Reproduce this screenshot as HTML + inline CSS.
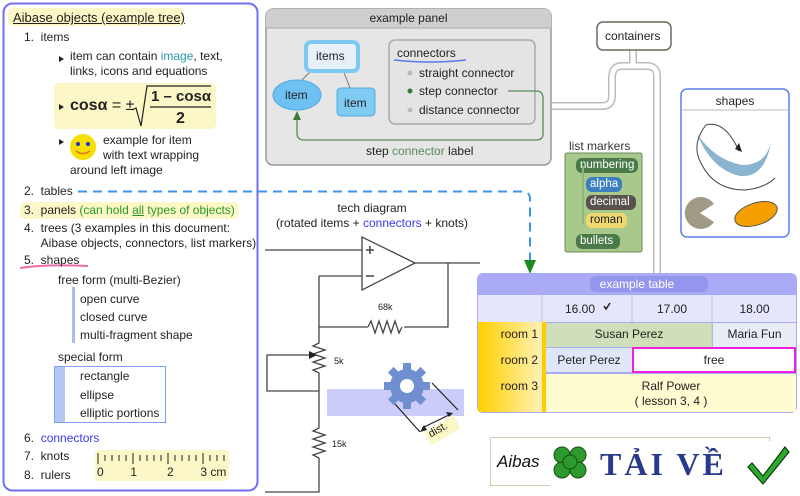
<!DOCTYPE html>
<html><head><meta charset="utf-8"><style>
body{margin:0;width:800px;height:496px;overflow:hidden;background:#fff;font-family:"Liberation Sans",sans-serif;position:relative;color:#222}
.a{position:absolute;white-space:nowrap;font-size:12px;line-height:14px}
svg{position:absolute;left:0;top:0}
</style></head><body>
<svg width="800" height="496">
<rect x="3.5" y="3.5" width="254" height="487" rx="9" fill="#fff" stroke="#6f6ff2" stroke-width="2"/>
<rect x="8" y="8" width="176" height="18" rx="5" fill="#fbf7c6"/>
<rect x="54" y="83" width="162" height="46" rx="5" fill="#fbf7c6"/>
<rect x="20" y="202" width="219" height="17" rx="5" fill="#fbf7c6"/>
<rect x="95" y="450" width="134" height="31" rx="4" fill="#fbf7c6"/>
<path d="M20 268 Q45 264 88 266" stroke="#f06aa8" stroke-width="2" fill="none"/>
<rect x="72" y="287" width="3" height="56" fill="#a6bff0"/>
<rect x="54.5" y="366.5" width="111" height="56" fill="#fff" stroke="#7ea0ee"/>
<rect x="55" y="367" width="10" height="55" fill="#b3c8f2"/>
<g stroke="#222" stroke-width="1">
<path d="M98 453v11M133 453v11M168 453v11M203 453v11"/>
<path d="M105 455v6M112 455v6M119 455v6M126 455v6M140 455v6M147 455v6M154 455v6M161 455v6M175 455v6M182 455v6M189 455v6M196 455v6M210 455v6M217 455v6M224 455v6"/>
</g>
<path d="M59 56l5 3-5 3z M59 104l5 3-5 3z M59 139l5 3-5 3z" fill="#222"/>
<circle cx="83" cy="147" r="13" fill="#f5e000"/>
<circle cx="78" cy="144" r="2" fill="#2233cc"/><circle cx="88" cy="144" r="2" fill="#2233cc"/>
<path d="M76 151 Q83 156 90 151" stroke="#e07020" fill="none" stroke-width="1.5"/>
<path d="M132 110 l4 -2 l5 18 l6 -40 h64" stroke="#222" fill="none" stroke-width="1.2"/>
<path d="M150 107 h61" stroke="#222" stroke-width="1.2"/>
<path d="M78 191.5 H522 Q530 191.5 530 199 V262" stroke="#3a95ea" stroke-width="2" stroke-dasharray="9 6" fill="none"/>
<path d="M524 260 L536 260 L530 274z" fill="#1c8a1c"/>
<rect x="266" y="9" width="285" height="156" rx="7" fill="#e6e6e6" stroke="#999" stroke-width="1.5"/>
<path d="M266 28 V16 Q266 9 273 9 H544 Q551 9 551 16 V28z" fill="#cfcfcf"/>
<line x1="266" y1="28" x2="551" y2="28" stroke="#aaa"/>
<line x1="312" y1="70" x2="300" y2="82" stroke="#777"/>
<line x1="343" y1="70" x2="350" y2="88" stroke="#777"/>
<rect x="306" y="42" width="52" height="29" rx="5" fill="#e6f0f8" stroke="#7cc8f0" stroke-width="4"/>
<ellipse cx="297" cy="95" rx="24" ry="15" fill="#6ec1f2" stroke="#55a8dd"/>
<rect x="337" y="88" width="38" height="28" rx="4" fill="#7fcbf4" stroke="#55a8dd"/>
<rect x="389" y="40" width="146" height="84" rx="6" fill="#e4e4e4" stroke="#aaa" stroke-width="1.5"/>
<path d="M394 60 Q430 64 466 60" stroke="#5b78ec" stroke-width="1.5" fill="none"/>
<circle cx="410" cy="73" r="2.5" fill="#bbb"/><circle cx="410" cy="91" r="2.5" fill="#3a7a3a"/><circle cx="410" cy="110" r="2.5" fill="#bbb"/>
<path d="M508 91 H536 Q543 91 543 98 V134 Q543 140 536 140 H304 Q297 140 297 133 V117" stroke="#5a8a5a" stroke-width="1.3" fill="none"/>
<path d="M293 120 L301 120 L297 111z" fill="#3a7a3a"/>
<g fill="none" stroke-linejoin="round">
<path d="M633 50 V66 H622 Q612 66 612 78 V96 Q612 106 602 106 H552" stroke="#bbb" stroke-width="8"/>
<path d="M633 50 V66 H647 Q657 66 657 76 V273" stroke="#bbb" stroke-width="8"/>
<path d="M633 50 V66 H622 Q612 66 612 78 V96 Q612 106 602 106 H552" stroke="#fff" stroke-width="5"/>
<path d="M633 50 V66 H647 Q657 66 657 76 V273" stroke="#fff" stroke-width="5"/>
</g>
<rect x="597" y="22" width="74" height="28" rx="6" fill="#fff" stroke="#6a6a5a" stroke-width="1.5"/>
<rect x="681" y="89" width="108" height="148" rx="6" fill="#fff" stroke="#5a7fe8" stroke-width="1.5"/>
<line x1="681" y1="110" x2="789" y2="110" stroke="#bbb"/>
<path d="M697 134 Q712 170 740 176 Q765 178 771 142 Q766 165 742 165 Q715 160 697 134z" fill="#8ab4d0"/>
<path d="M739 151 Q725 120 706 125 Q690 145 702 165 Q715 190 745 190 Q765 188 775 178" stroke="#444" fill="none" stroke-width="1"/>
<path d="M735 149 l7 3 l-3 -9z" fill="#222"/>
<path d="M700 213 L714 204 A16 16 0 1 0 714 222 z" fill="#a09a86"/>
<ellipse cx="756" cy="214" rx="22" ry="11" transform="rotate(-18 756 214)" fill="#f5a000" stroke="#555"/>
<rect x="565" y="153" width="77" height="99" rx="2" fill="#a9c98c" stroke="#6a8a5a"/>
<rect x="576" y="158" width="62" height="15" rx="6" fill="#4a7a4a"/>
<rect x="582" y="166" width="2" height="58" fill="#8fb57a"/>
<rect x="586" y="177" width="36" height="15" rx="6" fill="#3b7fbf"/>
<rect x="586" y="195" width="50" height="15" rx="6" fill="#5a524e"/>
<rect x="586" y="213" width="41" height="15" rx="6" fill="#f0d870"/>
<rect x="576" y="234" width="44" height="15" rx="6" fill="#4a7a4a"/>
<g stroke="#444" stroke-width="1.3" fill="none">
<path d="M362 237 L362 290 L415 263z" fill="#fff"/>
<path d="M265 250 H362 M319 276 H362 M415 263 H480 M448 263 V327 H404 M368 327 H319 V276"/>
<path d="M368 327 l3 -6 l4 12 l4 -12 l4 12 l4 -12 l4 12 l4 -12 l4 12 l3 -6"/>
<path d="M319 327 V343 l-6 3 l12 4 l-12 4 l12 4 l-12 4 l12 4 l-12 4 l6 3 V428 l-6 3 l12 4 l-12 4 l12 4 l-12 4 l12 4 l-12 4 l6 3 V492 H265"/>
<path d="M315 355 H267 V391 H319"/>
<path d="M366 250 h8 M370 246 v8 M366 276 h8" stroke-width="1.5"/>
</g>
<path d="M309 351 L317 355 L309 359z" fill="#222"/>
<rect x="327" y="389" width="137" height="27" fill="#ccccfb"/>
<g transform="translate(407 386)">
<g fill="#6f8fd0">
<circle r="17"/>
<g id="t"><rect x="-4" y="-23" width="8" height="8"/></g>
<use href="#t" transform="rotate(45)"/><use href="#t" transform="rotate(90)"/><use href="#t" transform="rotate(135)"/><use href="#t" transform="rotate(180)"/><use href="#t" transform="rotate(225)"/><use href="#t" transform="rotate(270)"/><use href="#t" transform="rotate(315)"/>
</g>
<circle r="7" fill="#fff"/>
</g>
<g stroke="#222" stroke-width="1.2">
<path d="M395 404 L420 432 M432 383 L458 410 M422 428 L451 414"/>
</g>
<path d="M420 432 l4 -7 l3 5z M453 413 l-7 -1 l3 5z" fill="#222"/>
<rect x="425" y="423" width="34" height="15" fill="#fbf7c6" transform="rotate(-30 442 430)"/>
<rect x="477" y="273" width="320" height="140" rx="6" fill="#aaaaf7"/>
<rect x="590" y="276" width="118" height="16" rx="6" fill="#9595ee"/>
<rect x="478" y="295" width="318" height="27" fill="#e4e6fb"/>
<defs><linearGradient id="g" x1="0" x2="1"><stop offset="0" stop-color="#ffd000"/><stop offset="1" stop-color="#fff1b5"/></linearGradient></defs>
<rect x="478" y="322" width="64" height="90" fill="url(#g)"/>
<rect x="542" y="322" width="4" height="90" fill="#ffcc00"/>
<rect x="546" y="323" width="166" height="24" fill="#cfdfb9"/>
<rect x="713" y="323" width="83" height="24" fill="#e8ecf4"/>
<rect x="546" y="348" width="86" height="24" fill="#dfe8fb"/>
<rect x="633" y="348" width="162" height="24" fill="#fff" stroke="#f020e0" stroke-width="2"/>
<rect x="546" y="374" width="250" height="38" fill="#fffcd2"/>
<g stroke="#c0c0d8"><path d="M542 295V322 M632 295V322 M712 295V347"/></g>
<path d="M604 306 l2 3 l4 -6" stroke="#222" stroke-width="1.5" fill="none"/>
<rect x="490.5" y="437.5" width="279" height="48" fill="#fff" stroke="#d8c8b0"/>
<rect x="550" y="441" width="245" height="55" fill="#fff"/>
<g fill="#2e9a2e" stroke="#145014"><circle cx="562" cy="455" r="8"/><circle cx="578" cy="455" r="8"/><circle cx="562" cy="470" r="8"/><circle cx="578" cy="470" r="8"/><circle cx="570" cy="462" r="7"/></g>
<path d="M752 463 L763 476 L785 447 L789 452 L763 484 L748 467z" fill="#2ea82e" stroke="#0c3c0c" stroke-width="1.2"/>
</svg>
<div class="a" style="left:13px;top:11px;font-size:13px;text-decoration:underline">Aibase objects (example tree)</div>
<div class="a" style="left:24px;top:30px">1.&nbsp; items</div>
<div class="a" style="left:70px;top:49px;line-height:15px">item can contain <span style="color:#2a9aa8">image</span>, text,<br>links, icons and equations</div>
<div class="a" style="left:70px;top:96px;font-size:16px;font-weight:bold;line-height:20px">cosα <span style="font-weight:normal">= ±</span></div>
<div class="a" style="left:151px;top:87px;font-size:15px;font-weight:bold;line-height:20px">1 – cosα</div>
<div class="a" style="left:176px;top:109px;font-size:16px;font-weight:bold;line-height:20px">2</div>
<div class="a" style="left:103px;top:133px;line-height:15px">example for item<br>with text wrapping</div>
<div class="a" style="left:70px;top:163px">around left image</div>
<div class="a" style="left:24px;top:184px">2.&nbsp; tables</div>
<div class="a" style="left:24px;top:203px">3.&nbsp; panels <span style="color:#2a9a2a">(can hold <u>all</u> types of objects)</span></div>
<div class="a" style="left:24px;top:221px;line-height:15px">4.&nbsp; trees (3 examples in this document:<br>&nbsp;&nbsp;&nbsp;&nbsp;&nbsp;Aibase objects, connectors, list markers)</div>
<div class="a" style="left:24px;top:253px">5.&nbsp; shapes</div>
<div class="a" style="left:58px;top:273px">free form (multi-Bezier)</div>
<div class="a" style="left:80px;top:292px">open curve</div>
<div class="a" style="left:80px;top:310px">closed curve</div>
<div class="a" style="left:80px;top:328px">multi-fragment shape</div>
<div class="a" style="left:58px;top:350px">special form</div>
<div class="a" style="left:80px;top:369px">rectangle</div>
<div class="a" style="left:80px;top:388px">ellipse</div>
<div class="a" style="left:80px;top:406px">elliptic portions</div>
<div class="a" style="left:24px;top:431px">6.&nbsp; <span style="color:#3a3aee">connectors</span></div>
<div class="a" style="left:24px;top:449px">7.&nbsp; knots</div>
<div class="a" style="left:24px;top:468px">8.&nbsp; rulers</div>
<div class="a" style="left:97px;top:465px;font-size:12px">0&nbsp;&nbsp;&nbsp;&nbsp;&nbsp;&nbsp;&nbsp;&nbsp;1&nbsp;&nbsp;&nbsp;&nbsp;&nbsp;&nbsp;&nbsp;&nbsp;&nbsp;2&nbsp;&nbsp;&nbsp;&nbsp;&nbsp;&nbsp;&nbsp;&nbsp;3 cm</div>
<div class="a" style="left:266px;top:11px;width:285px;text-align:center">example panel</div>
<div class="a" style="left:316px;top:49px">items</div>
<div class="a" style="left:285px;top:88px">item</div>
<div class="a" style="left:344px;top:96px">item</div>
<div class="a" style="left:397px;top:46px">connectors</div>
<div class="a" style="left:419px;top:66px">straight connector</div>
<div class="a" style="left:419px;top:84px">step connector</div>
<div class="a" style="left:419px;top:103px">distance connector</div>
<div class="a" style="left:366px;top:144px">step <span style="color:#5a8a5a">connector</span> label</div>
<div class="a" style="left:605px;top:29px">containers</div>
<div class="a" style="left:681px;top:94px;width:108px;text-align:center">shapes</div>
<div class="a" style="left:569px;top:139px;color:#333">list markers</div>
<div class="a" style="left:580px;top:158px;color:#fff;font-size:11.5px">numbering</div>
<div class="a" style="left:590px;top:177px;color:#fff;font-size:11.5px">alpha</div>
<div class="a" style="left:590px;top:195px;color:#fff;font-size:11.5px">decimal</div>
<div class="a" style="left:590px;top:213px;color:#222;font-size:11.5px">roman</div>
<div class="a" style="left:580px;top:234px;color:#fff;font-size:11.5px">bullets</div>
<div class="a" style="left:262px;top:201px;width:220px;text-align:center;line-height:15px">tech diagram<br>(rotated items + <span style="color:#3a3aee">connectors</span> + knots)</div>
<div class="a" style="left:378px;top:300px;font-size:9px">68k</div>
<div class="a" style="left:334px;top:354px;font-size:9px">5k</div>
<div class="a" style="left:332px;top:437px;font-size:9px">15k</div>
<div class="a" style="left:428px;top:423px;font-size:11px;transform:rotate(-30deg)">dist.</div>
<div class="a" style="left:477px;top:277px;width:320px;text-align:center;color:#fff">example table</div>
<div class="a" style="left:565px;top:302px">16.00</div>
<div class="a" style="left:632px;top:302px;width:80px;text-align:center">17.00</div>
<div class="a" style="left:712px;top:302px;width:85px;text-align:center">18.00</div>
<div class="a" style="left:478px;top:327px;width:60px;text-align:right">room 1</div>
<div class="a" style="left:478px;top:353px;width:60px;text-align:right">room 2</div>
<div class="a" style="left:478px;top:379px;width:60px;text-align:right">room 3</div>
<div class="a" style="left:546px;top:327px;width:166px;text-align:center">Susan Perez</div>
<div class="a" style="left:712px;top:327px;width:85px;text-align:center">Maria Fun</div>
<div class="a" style="left:546px;top:353px;width:86px;text-align:center">Peter Perez</div>
<div class="a" style="left:633px;top:353px;width:162px;text-align:center">free</div>
<div class="a" style="left:546px;top:379px;width:250px;text-align:center;line-height:15px">Ralf Power<br>( lesson 3, 4 )</div>
<div class="a" style="left:497px;top:452px;font-size:17px;line-height:20px;font-style:italic;color:#111">Aibas</div>
<div class="a" style="left:600px;top:446px;font-size:32px;line-height:36px;letter-spacing:3px;font-family:'Liberation Serif',serif;font-weight:bold;color:#2a3a8a">TẢI VỀ</div>
</body></html>
